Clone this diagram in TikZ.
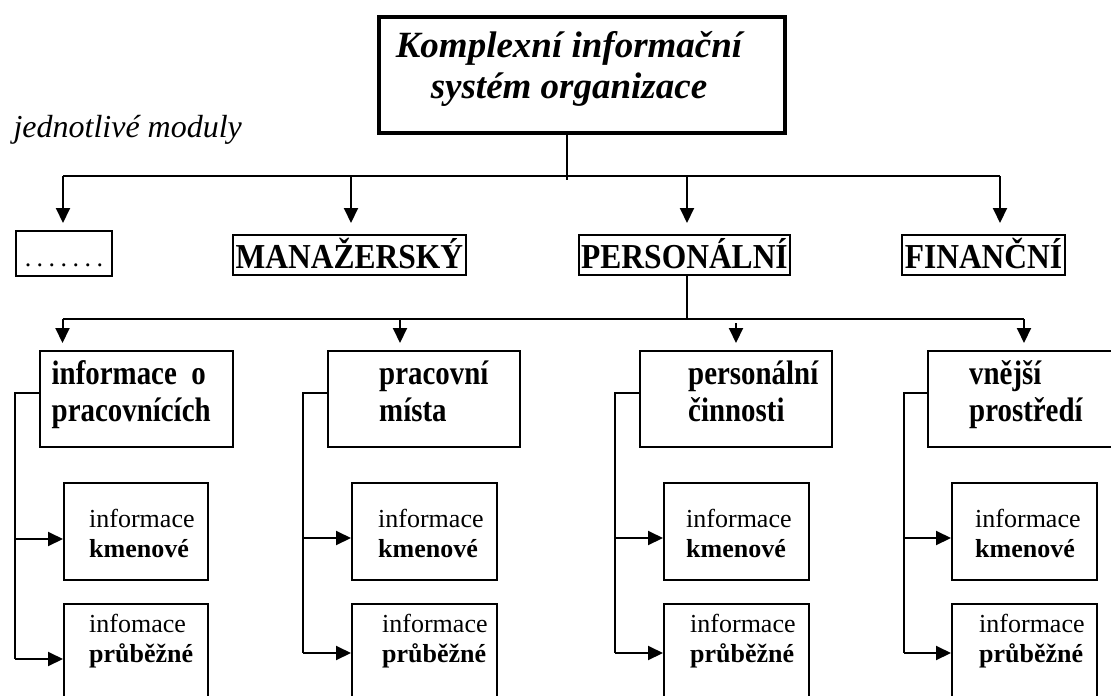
\documentclass[tikz,border=0pt]{standalone}
\usepackage{fontspec}
\setmainfont{Liberation Serif}
\newfontfamily\modserif[FakeStretch=0.9]{Liberation Serif}
\newfontfamily\narrowserif[FakeStretch=0.85]{Liberation Serif}
\usetikzlibrary{arrows.meta}
\tikzset{
  conn/.style={line width=2pt},
  arr/.style={conn, -{Triangle[width=14pt,length=15pt]}},
  modbox/.style={draw, line width=2pt, anchor=north, inner xsep=1pt, inner ysep=0pt, text height=33pt, text depth=7pt, font=\modserif\bfseries\fontsize{35}{36}\selectfont},
  grpbox/.style={draw, line width=2pt, anchor=north west, minimum height=96pt},
  infobox/.style={draw, line width=2pt, anchor=north west},
  grptext/.style={anchor=base west, align=left, inner sep=0pt, font=\narrowserif\bfseries\fontsize{34}{37}\selectfont},
  infotext/.style={anchor=base west, align=left, inner sep=0pt, font=\fontsize{26}{30}\selectfont},
}
\begin{document}
\begin{tikzpicture}[x=1pt, y=-1pt]
\clip (0,0) rectangle (1111,696);
\node[draw, line width=4pt, anchor=north west, minimum width=406pt, minimum height=116pt] (kis) at (377,15) {};
\node[anchor=base, align=center, font=\bfseries\itshape\fontsize{37}{41}\selectfont] (kist) at (569,98) {Komplexní informační\\systém organizace};
\node[anchor=base west, font=\itshape\fontsize{32}{36}\selectfont] (modt) at (10,137) {jednotlivé moduly};

\node[draw, line width=2pt, anchor=north west, minimum width=96pt, inner sep=0pt, text height=35pt, text depth=10pt, font=\fontsize{26}{30}\selectfont] (dots) at (15,230) {.\hspace{5.5pt}.\hspace{5.5pt}.\hspace{5.5pt}.\hspace{5.5pt}.\hspace{5.5pt}.\hspace{5.5pt}.\hspace{8pt}};
\node[modbox, minimum width=233pt] (man) at (349.5,234) {MANAŽERSKÝ};
\node[modbox, minimum width=211pt] (per) at (684.5,234) {PERSONÁLNÍ};
\node[modbox, minimum width=163pt] (fin) at (983.5,234) {FINANČNÍ};

\coordinate (drop) at (567,180);
\coordinate (busL) at (63,176);
\coordinate (busR) at (1000,176);
\draw[conn] (drop |- kis.south) -- (drop);
\draw[conn] (busL) -- (busR);
\draw[arr, shorten >=7pt] (busL) -- (busL |- dots.north);
\draw[arr, shorten >=11pt] ([xshift=1.5pt]man.north |- busL) -- ([xshift=1.5pt]man.north);
\draw[arr, shorten >=11pt] ([xshift=2.5pt]per.north |- busL) -- ([xshift=2.5pt]per.north);
\draw[arr, shorten >=11pt] (busR) -- (busR |- fin.north);

\node[grpbox, minimum width=193pt] (ipr) at (38.5,350) {};
\node[grptext] (iprt) at ([shift={(13,71)}]ipr.north west) {informace\ \ o\\pracovnících};
\node[grpbox, minimum width=192pt] (pm) at (327,350) {};
\node[grptext] (pmt) at ([shift={(52,71)}]pm.north west) {pracovní\\místa};
\node[grpbox, minimum width=192pt] (pc) at (639,350) {};
\node[grptext] (pct) at ([shift={(49,71)}]pc.north west) {personální\\činnosti};
\node[grpbox, minimum width=184pt] (vp) at (927,350) {};
\node[grptext] (vpt) at ([shift={(42,71)}]vp.north west) {vnější\\prostředí};

\coordinate (subL) at (62.5,319);
\coordinate (subR) at (1024,319);
\draw[conn] ([xshift=2.5pt]per.south) -- ([xshift=2.5pt]per.south |- subL);
\draw[conn] (subL) -- (subR);
\draw[arr, shorten >=7pt] (subL) -- (subL |- ipr.north);
\draw[arr, shorten >=7pt] ([xshift=-24pt]pm.north |- subL) -- ([xshift=-24pt]pm.north);
\draw[arr, shorten <=4pt, shorten >=7pt] (pc.north |- subL) -- (pc.north);
\draw[arr, shorten >=7pt] (subR) -- (subR |- vp.north);

\node[infobox, minimum width=144pt, minimum height=97pt] (ik1) at (63,482) {};
\node[infotext] (ik1t) at ([shift={(26,75)}]ik1.north west) {informace\\\textbf{kmenové}};
\node[infobox, minimum width=144pt, minimum height=112pt] (ip1) at (63,603) {};
\node[infotext] (ip1t) at ([shift={(26,59)}]ip1.north west) {infomace\\\textbf{průběžné}};
\coordinate (k1) at (15,539);
\coordinate (p1) at (15,659);
\draw[conn] ([yshift=6pt]ipr.west) -| (p1);
\draw[arr] (k1) -- (k1 -| ik1.west);
\draw[arr] (p1) -- (p1 -| ip1.west);

\node[infobox, minimum width=145pt, minimum height=97pt] (ik2) at (351,482) {};
\node[infotext] (ik2t) at ([shift={(27,75)}]ik2.north west) {informace\\\textbf{kmenové}};
\node[infobox, minimum width=145pt, minimum height=112pt] (ip2) at (351,603) {};
\node[infotext] (ip2t) at ([shift={(31,59)}]ip2.north west) {informace\\\textbf{průběžné}};
\coordinate (k2) at (303,538);
\coordinate (p2) at (303,653);
\draw[conn] ([yshift=6pt]pm.west) -| (p2);
\draw[arr] (k2) -- (k2 -| ik2.west);
\draw[arr] (p2) -- (p2 -| ip2.west);

\node[infobox, minimum width=145pt, minimum height=97pt] (ik3) at (663,482) {};
\node[infotext] (ik3t) at ([shift={(23,75)}]ik3.north west) {informace\\\textbf{kmenové}};
\node[infobox, minimum width=145pt, minimum height=112pt] (ip3) at (663,603) {};
\node[infotext] (ip3t) at ([shift={(27,59)}]ip3.north west) {informace\\\textbf{průběžné}};
\coordinate (k3) at (615,538);
\coordinate (p3) at (615,653);
\draw[conn] ([yshift=6pt]pc.west) -| (p3);
\draw[arr] (k3) -- (k3 -| ik3.west);
\draw[arr] (p3) -- (p3 -| ip3.west);

\node[infobox, minimum width=145pt, minimum height=97pt] (ik4) at (951,482) {};
\node[infotext] (ik4t) at ([shift={(24,75)}]ik4.north west) {informace\\\textbf{kmenové}};
\node[infobox, minimum width=145pt, minimum height=112pt] (ip4) at (951,603) {};
\node[infotext] (ip4t) at ([shift={(28,59)}]ip4.north west) {informace\\\textbf{průběžné}};
\coordinate (k4) at (903.5,538);
\coordinate (p4) at (903.5,653);
\draw[conn] ([yshift=6pt]vp.west) -| (p4);
\draw[arr] (k4) -- (k4 -| ik4.west);
\draw[arr] (p4) -- (p4 -| ip4.west);
\end{tikzpicture}
\end{document}
